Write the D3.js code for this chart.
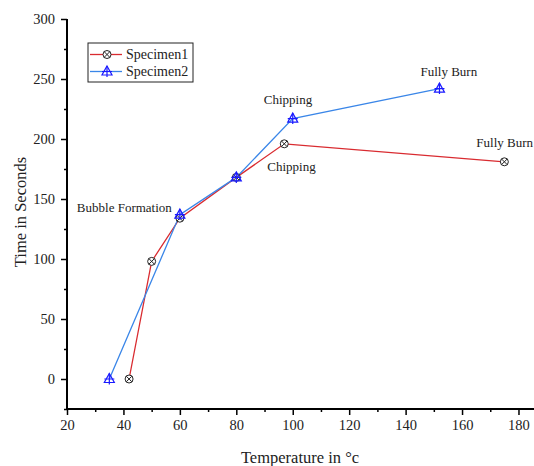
<!DOCTYPE html>
<html>
<head>
<meta charset="utf-8">
<script src="https://d3js.org/d3.v7.min.js"></script>
<style>
  body { margin: 0; background: #fff; }
  text { font-family: "Liberation Serif", "Times New Roman", serif; fill: #222; }
</style>
</head>
<body>
<div id="chart"></div>
<script>
// data
var spec1Temp = [42, 50, 60, 80, 97, 175];
var spec1Time = [0, 98, 134, 168, 196, 181];
var spec2Temp = [35, 60, 80, 100, 152];
var spec2Time = [0, 137, 168, 217, 242];
var xTicks = [20, 40, 60, 80, 100, 120, 140, 160, 180];
var yTicks = [0, 50, 100, 150, 200, 250, 300];
var notes = [
  {label: "Bubble Formation", t: 60, s: 137, dx: -103, dy: -3},
  {label: "Chipping", t: 100, s: 217, dx: -29, dy: -15},
  {label: "Chipping", t: 97, s: 196, dx: -17, dy: 27},
  {label: "Fully Burn", t: 152, s: 242, dx: -19, dy: -13},
  {label: "Fully Burn", t: 175, s: 181, dx: -28, dy: -15}
];

var W = 534, H = 466;
var svg = d3.select("#chart").append("svg")
    .attr("width", W).attr("height", H);

var x = d3.scaleLinear().domain([20, 185.5]).range([67, 534]);
var y = d3.scaleLinear().domain([-25, 300]).range([409, 19]);

// x axis, minor ticks then major
var xa = svg.append("g").attr("transform", "translate(0,409)");
xa.call(d3.axisBottom(x).tickValues(d3.range(30, 190, 20)).tickSize(3).tickFormat(""));
xa.append("g").call(d3.axisBottom(x).tickValues(xTicks).tickSize(6).tickPadding(5));

// y axis
var ya = svg.append("g").attr("transform", "translate(67,0)");
ya.call(d3.axisLeft(y).tickValues(d3.range(-25, 300, 50)).tickSize(3).tickFormat(""));
ya.append("g").call(d3.axisLeft(y).tickValues(yTicks).tickSize(6).tickPadding(6));

svg.selectAll("path.domain").attr("d", null).remove();
xa.append("path").attr("d", "M67,0H534").attr("stroke", "#000").attr("stroke-width", 2);
ya.append("path").attr("d", "M0,410V19").attr("stroke", "#000").attr("stroke-width", 2);
svg.selectAll(".tick line").attr("stroke-width", 1.5);
svg.selectAll(".tick text").style("font-size", "14.5px").attr("fill", "#222");

// axis titles
svg.append("text")
    .attr("x", 300).attr("y", 463)
    .attr("text-anchor", "middle")
    .style("font-size", "16.5px")
    .text("Temperature in \u00b0c");
svg.append("text")
    .attr("transform", "translate(26,212) rotate(-90)")
    .attr("text-anchor", "middle")
    .style("font-size", "16.5px")
    .text("Time in Seconds");

var line = d3.line().x(function(d) { return x(d[0]); }).y(function(d) { return y(d[1]); });
var s1 = d3.zip(spec1Temp, spec1Time);
var s2 = d3.zip(spec2Temp, spec2Time);

svg.append("path").datum(s1)
    .attr("d", line).attr("fill", "none")
    .attr("stroke", "#d92b30").attr("stroke-width", 1.3);
svg.append("path").datum(s2)
    .attr("d", line).attr("fill", "none")
    .attr("stroke", "#3a86e8").attr("stroke-width", 1.3);

function circleX(g, cx, cy) {
  g.append("circle").attr("cx", cx).attr("cy", cy).attr("r", 4)
    .attr("fill", "#fff").attr("stroke", "#222").attr("stroke-width", 1);
  g.append("path")
    .attr("d", "M" + (cx - 2.8) + "," + (cy - 2.8) + "L" + (cx + 2.8) + "," + (cy + 2.8) +
               "M" + (cx - 2.8) + "," + (cy + 2.8) + "L" + (cx + 2.8) + "," + (cy - 2.8))
    .attr("stroke", "#222").attr("stroke-width", 1);
}
function triPlus(g, cx, cy) {
  g.append("path")
    .attr("d", "M" + cx + "," + (cy - 5.5) + "L" + (cx + 5) + "," + (cy + 3.5) +
               "L" + (cx - 5) + "," + (cy + 3.5) + "Z")
    .attr("fill", "none").attr("stroke", "#1a1aff").attr("stroke-width", 1.2);
  g.append("path")
    .attr("d", "M" + cx + "," + (cy - 5.5) + "V" + (cy + 5.5) +
               "M" + (cx - 5) + "," + cy + "H" + (cx + 5))
    .attr("stroke", "#1a1aff").attr("stroke-width", 1.2);
}

var m1 = svg.append("g");
s1.forEach(function(d) { circleX(m1, x(d[0]), y(d[1])); });
var m2 = svg.append("g");
s2.forEach(function(d) { triPlus(m2, x(d[0]), y(d[1])); });

// annotations
svg.selectAll("text.note").data(notes).enter().append("text")
    .attr("class", "note")
    .attr("x", function(d) { return x(d.t) + d.dx; })
    .attr("y", function(d) { return y(d.s) + d.dy; })
    .style("font-size", "13px")
    .text(function(d) { return d.label; });

// legend
var lg = svg.append("g").attr("transform", "translate(88,43)");
lg.append("rect").attr("width", 105).attr("height", 39)
    .attr("fill", "#fff").attr("stroke", "#222").attr("stroke-width", 1);
lg.append("line").attr("x1", 2).attr("x2", 34).attr("y1", 11.5).attr("y2", 11.5)
    .attr("stroke", "#d92b30").attr("stroke-width", 1.3);
circleX(lg, 19, 11.5);
lg.append("line").attr("x1", 2).attr("x2", 34).attr("y1", 28.5).attr("y2", 28.5)
    .attr("stroke", "#3a86e8").attr("stroke-width", 1.3);
triPlus(lg, 19, 28.5);
lg.append("text").attr("x", 38).attr("y", 16).style("font-size", "14px").text("Specimen1");
lg.append("text").attr("x", 38).attr("y", 33).style("font-size", "14px").text("Specimen2");
</script>
</body>
</html>
